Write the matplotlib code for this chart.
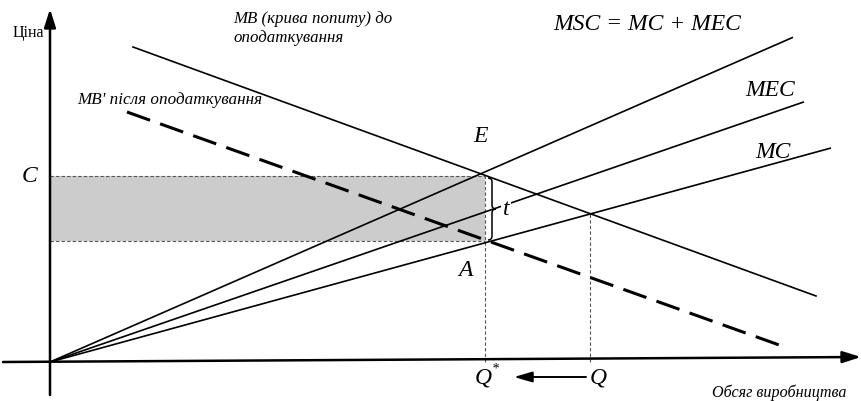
import matplotlib
matplotlib.use("Agg")
import matplotlib.pyplot as plt
from matplotlib.patches import Rectangle, PathPatch
from matplotlib.path import Path

# ---- data (quantity q, price p; origin at 0,0) ----
# supply-side rays from the origin
ray_names = ["MSC", "MEC", "MC"]
ray_slopes = [0.437, 0.345, 0.274]
ray_qend = [743, 754, 781]

# demand lines: start/end points
mb_q = [83, 766]
mb_p = [315, 66]
mbt_q = [77, 732]
mbt_p = [250, 16]

q_star = 435          # optimal output Q*
q_market = 540        # market output Q
p_C = 186             # price C (point E level)
p_A = 121             # price at A
p_Q = 148             # price at Q (MB ∩ MC)

serif = ["Liberation Serif", "DejaVu Serif"]

fig = plt.figure(figsize=(8.61, 4.02), dpi=100)
ax = fig.add_axes([0, 0, 1, 1])
ax.set_xlim(-50, 811)
ax.set_ylim(-39, 363)
ax.axis("off")

# shaded rectangle
ax.add_patch(Rectangle((0, p_A), q_star, p_C - p_A, facecolor="#cccccc",
                       edgecolor="none", zorder=1))
dash_kw = dict(color="#555555", lw=0.8, ls=(0, (3, 2)), zorder=2)
ax.plot([0, q_star], [p_C, p_C], **dash_kw)
ax.plot([0, q_star], [p_A, p_A], **dash_kw)
ax.plot([q_star, q_star], [0, p_C], **dash_kw)
ax.plot([q_market, q_market], [0, p_Q], **dash_kw)

# rays
for s, qe in zip(ray_slopes, ray_qend):
    ax.plot([0, qe], [0, s * qe], color="black", lw=1.2, zorder=3,
            solid_capstyle="butt")

# demand lines
ax.plot(mb_q, mb_p, color="black", lw=1.2, zorder=3)
ax.plot(mbt_q, mbt_p, color="black", lw=2.2, ls=(0, (8, 3.5)), zorder=3)

# axes with arrows
ax.annotate("", xy=(811, 5), xytext=(-47, 0),
            arrowprops=dict(arrowstyle="-|>,head_length=1.1,head_width=0.35",
                            color="black", lw=1.8, shrinkA=0, shrinkB=0), zorder=4)
ax.annotate("", xy=(0, 353), xytext=(0, -33),
            arrowprops=dict(arrowstyle="-|>,head_length=1.1,head_width=0.35",
                            color="black", lw=1.8, shrinkA=0, shrinkB=0), zorder=4)

# arrow Q -> Q*
ax.annotate("", xy=(464, -15), xytext=(536, -15),
            arrowprops=dict(arrowstyle="-|>,head_length=1.1,head_width=0.32",
                            color="black", lw=1.4, shrinkA=0, shrinkB=0))

# curly brace between A and C
bx = q_star + 7
top, bot = p_C - 2, p_A + 1
mid = (top + bot) / 2
w = 4
verts = [(bx - w, top), (bx, top), (bx, top - 4), (bx, mid + 4),
         (bx, mid), (bx + w, mid), (bx + w, mid),
         (bx, mid), (bx, mid - 4), (bx, bot + 4),
         (bx, bot), (bx - w, bot)]
codes = [Path.MOVETO, Path.CURVE3, Path.CURVE3, Path.LINETO,
         Path.CURVE3, Path.CURVE3, Path.MOVETO,
         Path.CURVE3, Path.CURVE3, Path.LINETO,
         Path.CURVE3, Path.CURVE3]
ax.add_patch(PathPatch(Path(verts, codes), facecolor="none",
                       edgecolor="black", lw=1.1, zorder=5))

it = dict(family=serif, style="italic", color="black")
ax.text(q_star + 21, mid, "t", fontsize=17, ha="center", va="center",
        bbox=dict(facecolor="white", edgecolor="none", pad=1.0), zorder=6, **it)

# labels
ax.text(-6, 330, "Ціна", family=serif, fontsize=11.5, ha="right", va="center")
ax.text(183, 352, "MB (крива попиту) до\nоподаткування", fontsize=12.2,
        ha="left", va="top", linespacing=1.25, **it)
ax.text(27, 263, "MB' після оподаткування", fontsize=12.3, ha="left",
        va="center", **it)
ax.text(503, 338, "MSC = MC + MEC", fontsize=17, ha="left", va="center", **it)
ax.text(695, 273, "MEC", fontsize=17, ha="left", va="center", **it)
ax.text(705, 210, "MC", fontsize=17, ha="left", va="center", **it)
ax.text(423, 226, "E", fontsize=17, ha="left", va="center", **it)
ax.text(-20, p_C, "C", fontsize=17, ha="center", va="center", **it)
ax.text(408, 92, "A", fontsize=17, ha="left", va="center", **it)
ax.text(q_star - 2, -15, "Q", fontsize=17, ha="center", va="center", **it)
ax.text(q_star + 10, -6, "*", fontsize=10, ha="center", va="center", **it)
ax.text(q_market + 8, -15, "Q", fontsize=17, ha="center", va="center", **it)
ax.text(662, -30, "Обсяг виробництва", fontsize=11.6, ha="left", va="center", **it)

fig.savefig("out.png", dpi=100)
